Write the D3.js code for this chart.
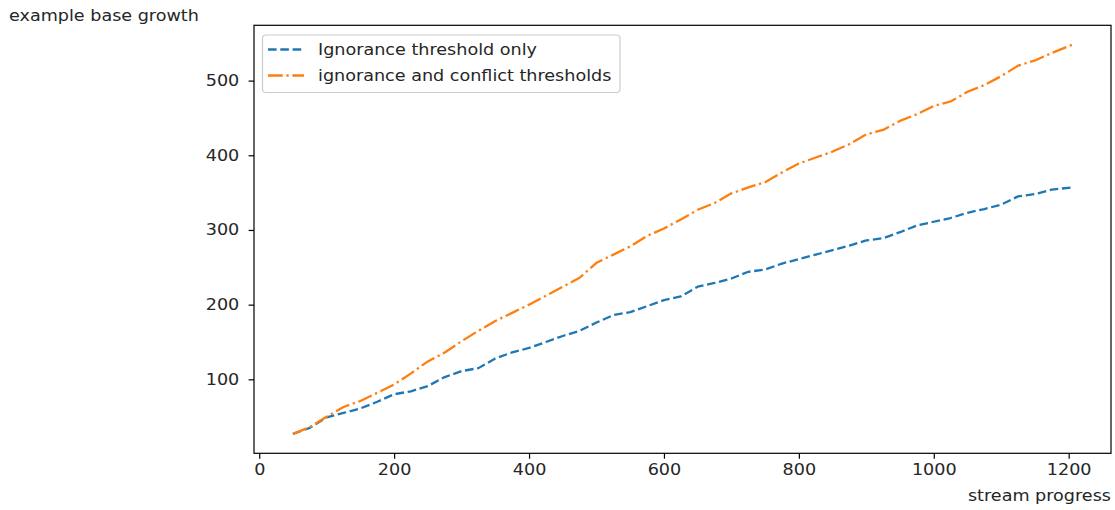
<!DOCTYPE html>
<html>
<head>
<meta charset="utf-8">
<script src="https://cdn.jsdelivr.net/npm/d3@7/dist/d3.min.js"></script>
<style>
  html, body { margin: 0; padding: 0; background: #fff; }
  svg { display: block; }
  text { font-family: "DejaVu Sans", sans-serif; fill: #262626; }
</style>
</head>
<body>
<svg id="chart" width="1115" height="510"></svg>
<script>
// ---- data ----
const streamProgress = [50, 75, 100, 125, 150, 175, 200, 225, 250, 275, 300, 325, 350, 375, 400, 425, 450, 475, 500, 525, 550, 575, 600, 625, 650, 675, 700, 725, 750, 775, 800, 825, 850, 875, 900, 925, 950, 975, 1000, 1025, 1050, 1075, 1100, 1125, 1150, 1175, 1205];
const ignoranceOnly = [27, 35, 49, 55, 61, 70, 80, 84, 91, 103, 111, 115, 128, 136, 142, 150, 158, 165, 176, 186, 190, 198, 206, 211, 224, 229, 235, 244, 247, 255, 261, 267, 273, 279, 286, 289, 297, 306, 311, 316, 323, 328, 334, 345, 348, 354, 357];
const ignoranceConflict = [27, 36, 50, 63, 71, 82, 93, 108, 124, 136, 151, 165, 178, 189, 200, 212, 224, 236, 256, 267, 278, 292, 302, 314, 327, 336, 349, 357, 364, 377, 389, 397, 405, 415, 428, 434, 446, 455, 466, 472, 485, 494, 506, 520, 527, 537, 548];
const seriesNames = ["Ignorance threshold only", "ignorance and conflict thresholds"];
const xTicks = [0, 200, 400, 600, 800, 1000, 1200];
const yTicks = [100, 200, 300, 400, 500];
const xLabel = "stream progress";
const yLabel = "example base growth";

// ---- layout ----
const L = 254, R = 1111, T = 25.3, B = 453.3;
const fs = 15.5;
const sx = 1.135; // horizontal text stretch seen in the reference
const svg = d3.select("#chart");

function padded(arr) {
  const [a, b] = d3.extent(arr);
  const m = (b - a) * 0.05;
  return [a - m, b + m];
}
const x = d3.scaleLinear().domain(padded(streamProgress)).range([L, R]);
const y = d3.scaleLinear().domain(padded(ignoranceOnly.concat(ignoranceConflict))).range([B, T]);

const series = [
  { name: seriesNames[0], values: ignoranceOnly, color: "#1f77b4", dash: "8.6,3.7" },
  { name: seriesNames[1], values: ignoranceConflict, color: "#ff7f0e", dash: "14.7,3.7,2.3,3.7" }
];

const line = d3.line().x((d, i) => x(streamProgress[i])).y(d => y(d));

const plotG = svg.append("g");
series.forEach(s => {
  plotG.append("path")
    .datum(s.values)
    .attr("d", line)
    .attr("fill", "none")
    .attr("stroke", s.color)
    .attr("stroke-width", 2.3)
    .attr("stroke-dasharray", s.dash)
    .attr("stroke-linejoin", "round");
});

// axes
const xAxis = d3.axisBottom(x).tickValues(xTicks).tickSize(5.4).tickPadding(5.4).tickFormat(d3.format("d"));
const yAxis = d3.axisLeft(y).tickValues(yTicks).tickSize(5.4).tickPadding(5.4).tickFormat(d3.format("d"));

const gx = svg.append("g").attr("transform", `translate(0,${B})`).call(xAxis);
const gy = svg.append("g").attr("transform", `translate(${L},0)`).call(yAxis);
[gx, gy].forEach(g => {
  g.select(".domain").remove();
  g.selectAll(".tick line").attr("stroke", "#000").attr("stroke-width", 1.2);
  g.selectAll(".tick text").attr("font-size", fs).attr("font-family", "DejaVu Sans").attr("fill", "#262626")
    .attr("transform", `scale(${sx},1)`);
});
gy.selectAll(".tick text").attr("x", -14.75 / sx);

// frame
svg.append("rect")
  .attr("x", L).attr("y", T).attr("width", R - L).attr("height", B - T)
  .attr("fill", "none").attr("stroke", "#000").attr("stroke-width", 1.2);

function stretchedText(px, py, str, anchor) {
  return svg.append("text")
    .attr("transform", `translate(${px},${py}) scale(${sx},1)`)
    .attr("text-anchor", anchor || "start")
    .attr("font-size", fs).text(str);
}

// axis labels
stretchedText(9, 21, yLabel);
stretchedText(R, 501, xLabel, "end");

// legend
const lg = svg.append("g");
lg.append("rect")
  .attr("x", 262.5).attr("y", 35).attr("width", 357.5).attr("height", 57.5)
  .attr("rx", 3.5).attr("ry", 3.5)
  .attr("fill", "#fff").attr("fill-opacity", 0.8)
  .attr("stroke", "#cccccc").attr("stroke-width", 1.2);
series.forEach((s, i) => {
  const cy = 49.5 + i * 26;
  lg.append("line")
    .attr("x1", 268).attr("x2", 304).attr("y1", cy).attr("y2", cy)
    .attr("stroke", s.color).attr("stroke-width", 2.3).attr("stroke-dasharray", s.dash);
  lg.append("text")
    .attr("transform", `translate(318,${cy}) scale(${sx},1)`)
    .attr("dy", "0.35em")
    .attr("font-size", fs).text(s.name);
});
</script>
</body>
</html>
